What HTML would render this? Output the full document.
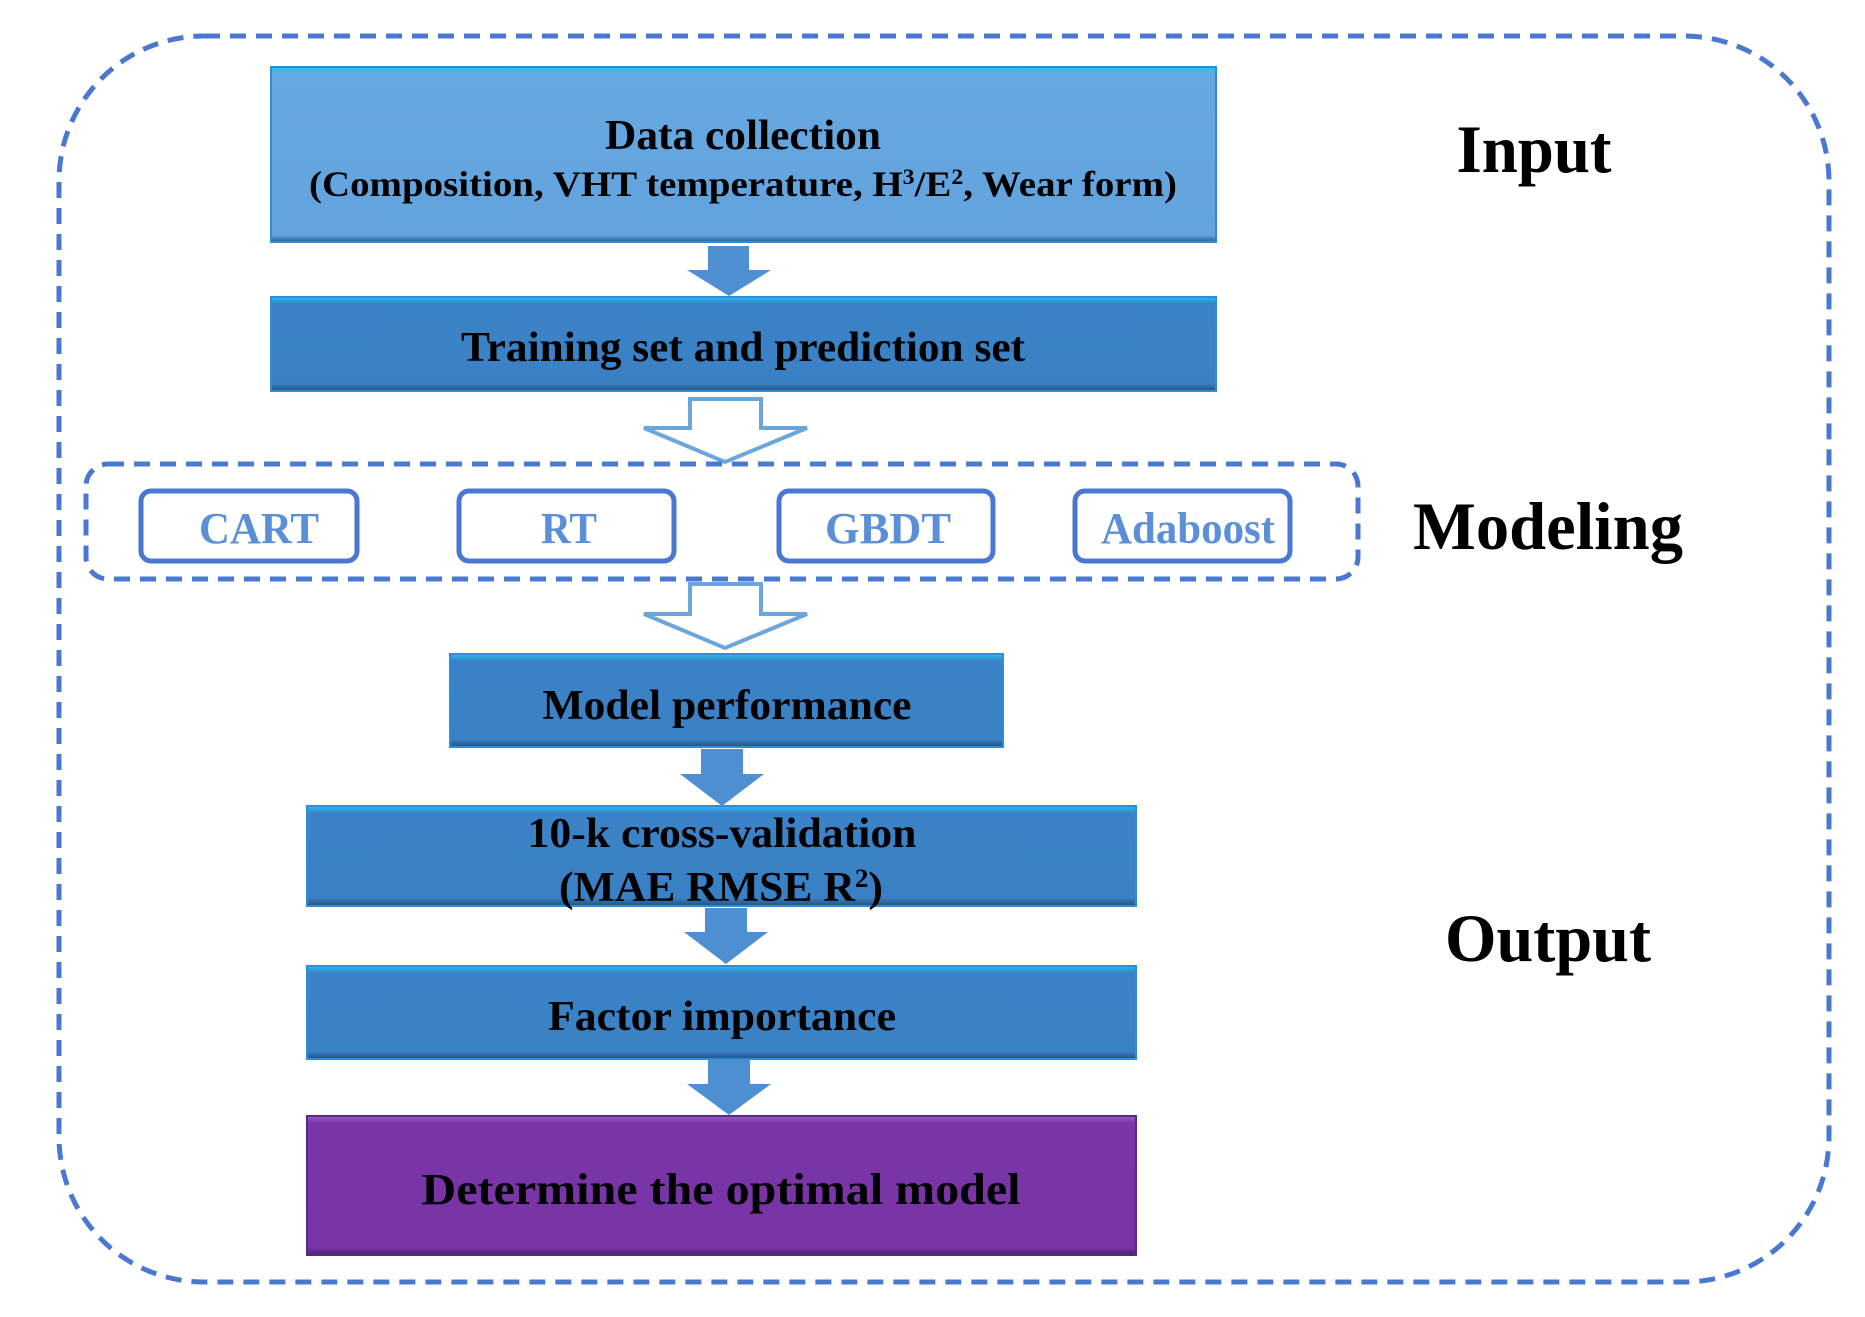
<!DOCTYPE html>
<html><head><meta charset="utf-8"><style>
html,body{margin:0;padding:0;background:#fff;}
svg{display:block;}
text{font-family:"Liberation Serif",serif;font-weight:bold;}
</style></head><body>
<svg width="1865" height="1317" viewBox="0 0 1865 1317" xmlns="http://www.w3.org/2000/svg">
<defs>
<linearGradient id="lb" x1="0" y1="0" x2="0" y2="1"><stop offset="0" stop-color="#21c1f3"/><stop offset="0.04" stop-color="#66a8e2"/><stop offset="0.96" stop-color="#62a3de"/><stop offset="1" stop-color="#2a5f92"/></linearGradient>
<linearGradient id="db" x1="0" y1="0" x2="0" y2="1"><stop offset="0" stop-color="#20c2f4"/><stop offset="0.07" stop-color="#3b83c8"/><stop offset="0.92" stop-color="#3a80c4"/><stop offset="1" stop-color="#22507e"/></linearGradient>
<linearGradient id="pb" x1="0" y1="0" x2="0" y2="1"><stop offset="0" stop-color="#9b5fc7"/><stop offset="0.05" stop-color="#7a36a9"/><stop offset="0.95" stop-color="#7834a6"/><stop offset="1" stop-color="#4b1f6c"/></linearGradient>
</defs>
<!-- outer dashed -->
<rect x="59" y="36" width="1770" height="1246" rx="145" ry="145" fill="none" stroke="#4a78d0" stroke-width="5" stroke-dasharray="16,10"/>
<!-- data collection -->
<rect x="271" y="67" width="945" height="175" fill="url(#lb)" stroke="#2a8fd8" stroke-width="2"/>
<text x="743" y="149" font-size="42" text-anchor="middle" textLength="276" lengthAdjust="spacingAndGlyphs">Data collection</text>
<text x="743" y="196" font-size="36" text-anchor="middle" textLength="868" lengthAdjust="spacingAndGlyphs">(Composition, VHT temperature, H<tspan baseline-shift="super" font-size="22">3</tspan>/E<tspan baseline-shift="super" font-size="22">2</tspan>, Wear form)</text>
<!-- arrow 1 -->
<polygon points="708,246 749,246 749,270 771,270 729,296 687,270 708,270" fill="#4d8fd0"/>
<!-- training -->
<rect x="271" y="297" width="945" height="94" fill="url(#db)" stroke="#2a8fd8" stroke-width="2"/>
<text x="743" y="361" font-size="42" text-anchor="middle" textLength="564" lengthAdjust="spacingAndGlyphs">Training set and prediction set</text>
<!-- hollow arrow 1 -->
<polygon points="690,399 761,399 761,428 807,428 725,462 644,428 690,428" fill="#fff" stroke="#6aa6dc" stroke-width="4"/>
<!-- modeling dashed -->
<rect x="86" y="464" width="1272" height="115" rx="22" ry="22" fill="none" stroke="#4a78d0" stroke-width="5" stroke-dasharray="16,10"/>
<g fill="#fff" stroke="#4a78d0" stroke-width="5">
<rect x="141" y="491" width="216" height="70" rx="10"/>
<rect x="459" y="491" width="215" height="70" rx="10"/>
<rect x="779" y="491" width="214" height="70" rx="10"/>
<rect x="1075" y="491" width="215" height="70" rx="10"/>
</g>
<g fill="#5b8fd8" font-size="44" text-anchor="middle">
<text x="259" y="543" textLength="120" lengthAdjust="spacingAndGlyphs">CART</text>
<text x="569" y="543" textLength="56" lengthAdjust="spacingAndGlyphs">RT</text>
<text x="888" y="543" textLength="126" lengthAdjust="spacingAndGlyphs">GBDT</text>
<text x="1188" y="543" textLength="174" lengthAdjust="spacingAndGlyphs">Adaboost</text>
</g>
<!-- labels -->
<text x="1534" y="172" font-size="68" text-anchor="middle" textLength="155" lengthAdjust="spacingAndGlyphs">Input</text>
<text x="1548" y="549" font-size="68" text-anchor="middle" textLength="270" lengthAdjust="spacingAndGlyphs">Modeling</text>
<text x="1548" y="961" font-size="68" text-anchor="middle" textLength="206" lengthAdjust="spacingAndGlyphs">Output</text>
<!-- hollow arrow 2 -->
<polygon points="690,584 761,584 761,614 807,614 725,648 644,614 690,614" fill="#fff" stroke="#6aa6dc" stroke-width="4"/>
<!-- model performance -->
<rect x="450" y="654" width="553" height="93" fill="url(#db)" stroke="#2a8fd8" stroke-width="2"/>
<text x="727" y="719" font-size="42" text-anchor="middle" textLength="369" lengthAdjust="spacingAndGlyphs">Model performance</text>
<!-- arrow -->
<polygon points="701,749 743,749 743,774 764,774 722,806 680,774 701,774" fill="#4d8fd0"/>
<!-- 10-k -->
<rect x="307" y="806" width="829" height="100" fill="url(#db)" stroke="#2a8fd8" stroke-width="2"/>
<text x="722" y="847" font-size="42" text-anchor="middle" textLength="389" lengthAdjust="spacingAndGlyphs">10-k cross-validation</text>
<text x="721" y="901" font-size="42" text-anchor="middle" textLength="324" lengthAdjust="spacingAndGlyphs">(MAE RMSE R<tspan baseline-shift="super" font-size="26">2</tspan>)</text>
<!-- arrow -->
<polygon points="705,908 747,908 747,932 768,932 726,964 684,932 705,932" fill="#4d8fd0"/>
<!-- factor -->
<rect x="307" y="966" width="829" height="93" fill="url(#db)" stroke="#2a8fd8" stroke-width="2"/>
<text x="722" y="1030" font-size="42" text-anchor="middle" textLength="348" lengthAdjust="spacingAndGlyphs">Factor importance</text>
<!-- arrow -->
<polygon points="708,1060 750,1060 750,1084 771,1084 729,1115 687,1084 708,1084" fill="#4d8fd0"/>
<!-- determine -->
<rect x="307" y="1116" width="829" height="139" fill="url(#pb)" stroke="#5a2a80" stroke-width="2"/>
<text x="721" y="1204" font-size="44" text-anchor="middle" textLength="599" lengthAdjust="spacingAndGlyphs">Determine the optimal model</text>
</svg>
</body></html>
